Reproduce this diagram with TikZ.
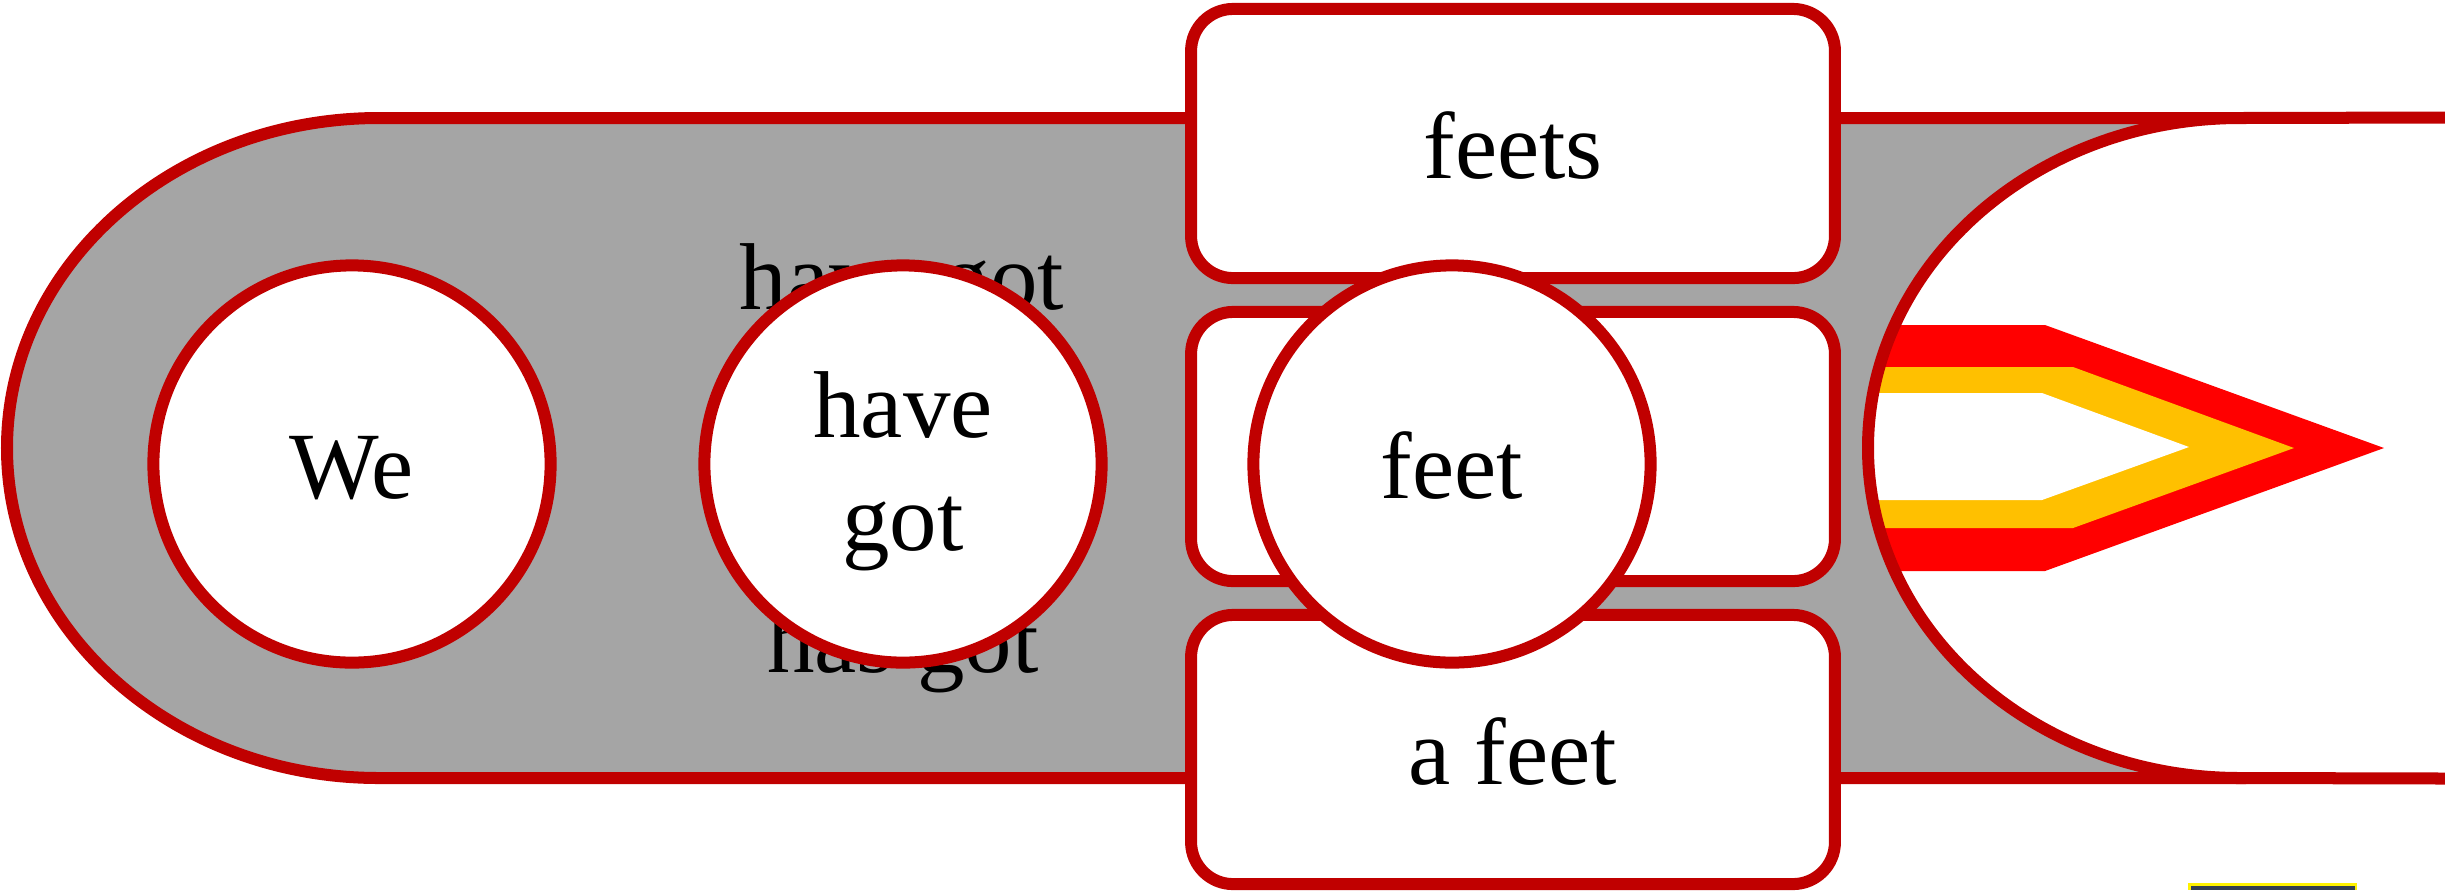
\documentclass[tikz,border=0pt]{standalone}
\usepackage{fontspec}
\setmainfont{Liberation Serif}
\usepackage{xcolor}
\usepackage{tikz}
\definecolor{darkred}{HTML}{C00000}
\definecolor{bandgray}{HTML}{A5A5A5}
\definecolor{gold}{HTML}{FFC000}
\definecolor{slate}{HTML}{333F50}
\tikzstyle{word}=[font=\fontsize{27}{32.2}\selectfont,align=center,outer sep=0pt,inner sep=0pt]
\tikzstyle{wordbox}=[word,rectangle,draw=darkred,fill=white,line width=0.12cm,rounded corners=0.42cm,minimum width=6.435cm,minimum height=2.69cm,text height=0.69cm,text depth=0pt]
\tikzstyle{wordcircle}=[word,circle,draw=darkred,fill=white,line width=0.12cm,minimum size=3.97cm,text height=0.69cm,text depth=0pt]
\tikzstyle{edge}=[draw=darkred,line width=0.12cm]
\newcommand{\noseoutline}{(2445,117.5) -- (2240,118) arc (270:90:372 and 330) -- (2445,778.5)}

\begin{document}
\begin{tikzpicture}[x=0.01cm,y=-0.01cm]
        \useasboundingbox (0,0) rectangle (2445,890);
        \draw [edge,fill=bandgray] (379,118) -- (2240,118) -- (2240,778) -- (379,778) arc (90:270:372 and 330) -- cycle;
        \node at (902,309) [word,anchor=base] (havegotback) {have got};
        \node at (903,672) [word,anchor=base] (hasgotback) {has got};
        \fill [white] \noseoutline;
        \begin{scope}
          \clip \noseoutline;
          \fill [red] (1850,325) -- (2045,325) -- (2384,448) -- (2045,571) -- (1850,571) -- cycle;
          \fill [gold] (1850,367) -- (2073,367) -- (2294,448) -- (2073,528) -- (1850,528) -- cycle;
          \fill [white] (1850,393) -- (2042,393) -- (2189,447) -- (2042,500) -- (1850,500) -- cycle;
        \end{scope}
        \draw [edge] \noseoutline;
        \node at (1513,143.5) [wordbox] (feets) {feets};
        \node at (1513,446.5) [wordbox] (feetbox) {};
        \node at (1513,749.5) [wordbox] (afeet) {a feet};
        \node at (352,464) [wordcircle] (we) {We};
        \node at (903,464) [wordcircle] (havegot) {};
        \node at (903,471) [word] (havegottext) {have\\got};
        \node at (1452,464) [wordcircle] (feet) {feet};
        \fill [yellow] (2188,883) rectangle (2357,890);
        \fill [slate] (2190.5,885.5) rectangle (2354.5,890);
      \end{tikzpicture}
\end{document}
